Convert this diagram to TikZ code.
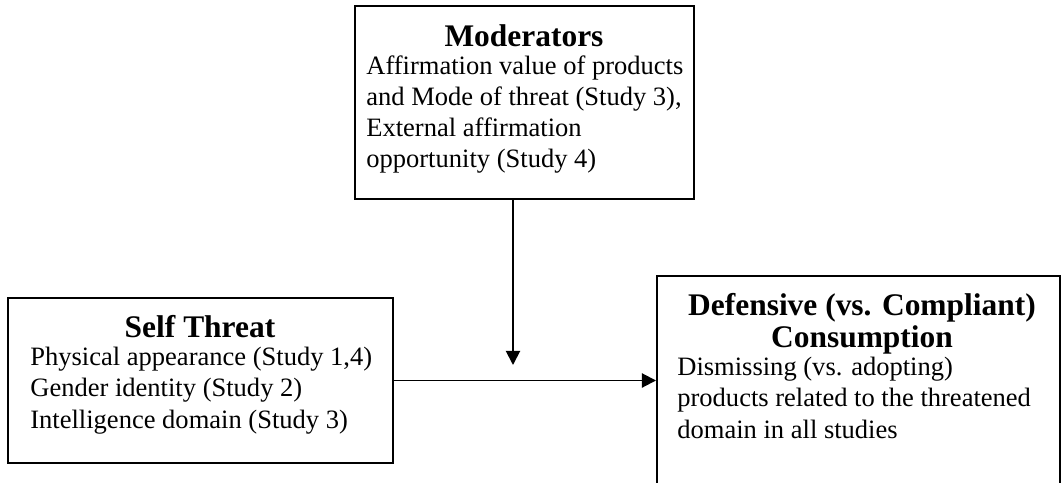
\documentclass[tikz,border=0pt]{standalone}
\usepackage{fontspec}
\setmainfont{Liberation Serif}
\usetikzlibrary{positioning}
\usetikzlibrary{fit}
\usetikzlibrary{arrows.meta}

\begin{document}
\begin{tikzpicture}
[x=0.02cm,y=-0.02cm,
  frame/.style = {rectangle,draw,line width=1.1pt,inner sep=0pt},
  head/.style = {font=\fontsize{17.9}{18.1}\selectfont\bfseries,align=center,inner sep=0pt,anchor=base},
  body/.style = {font=\fontsize{15.1}{17.8}\selectfont,align=left,inner sep=0pt,anchor=base west},
  arrow/.style = {-{Triangle[length=8pt,width=8pt]},line width=1.1pt}]
%
\clip (0,0) rectangle (1062,483);
%
% boxes, text placed at the baseline of its last line
\node[frame,fit={(355,6) (694,199)}] (mod) {};
\node[head] (modhead) at (524,47) {Moderators};
\node[body] (modbody) at (366,168) {Affirmation value of products\\and Mode of threat (Study 3),\\External affirmation\\opportunity (Study 4)};
%
\node[frame,fit={(8,298) (393,463)}] (self) {};
\node[head] (selfhead) at (200,337) {Self Threat};
\node[body] (selfbody) at (30,428) {Physical appearance (Study 1,4)\\Gender identity (Study 2)\\Intelligence domain (Study 3)};
%
\node[frame,fit={(657,276) (1060,500)}] (def) {};
\node[head] (defhead) at (862,347) {Defensive (vs. Compliant)\\Consumption};
\node[body] (defbody) at (677,438) {Dismissing (vs. adopting)\\products related to the threatened\\domain in all studies};
%
\coordinate (meet) at (513,365);
   \draw[arrow] (meet |- mod.south) -- (meet);
   \draw[arrow] (self.east) -- (self.east -| def.west);
\end{tikzpicture}
\end{document}
